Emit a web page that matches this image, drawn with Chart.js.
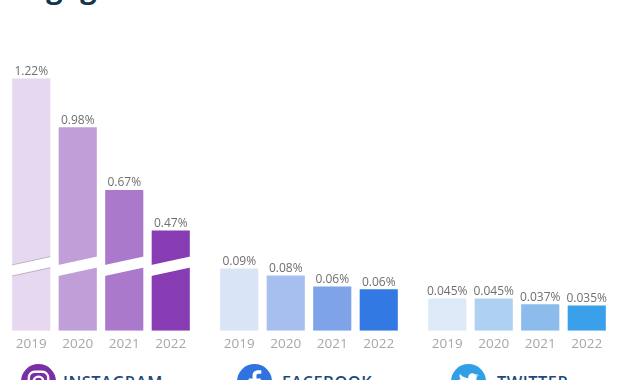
<!DOCTYPE html>
<html>
<head>
<meta charset="utf-8">
<script src="https://cdn.jsdelivr.net/npm/chart.js@4"></script>
<style>
  html, body { margin: 0; padding: 0; background: #fff; }
  body { width: 630px; height: 380px; overflow: hidden; position: relative; font-family: "Open Sans", sans-serif; }
  .title { position: absolute; left: 11px; top: -28px; font-size: 29px; line-height: 29px; font-weight: 700; color: #12344d; }
  .panel { position: absolute; top: 61px; width: 186px; height: 296px; }
  .brand { position: absolute; top: 364px; height: 35px; display: flex; align-items: center; color: #1f4a78; font-weight: 600; font-size: 16.4px; letter-spacing: .5px; }
  .brand svg { width: 35px; height: 35px; }
</style>
</head>
<body>
<div class="title">Engagement</div>
<div class="panel" style="left:8px"><canvas id="instagram"></canvas></div>
<div class="panel" style="left:216px"><canvas id="facebook"></canvas></div>
<div class="panel" style="left:424px"><canvas id="twitter"></canvas></div>

<div class="brand" style="left:21px">
  <svg viewBox="0 0 36 36" style="margin-right:7px"><circle cx="18" cy="18" r="18" fill="#7b2fa5"/><rect x="8" y="8" width="20" height="20" rx="6" fill="none" stroke="#fff" stroke-width="2.4"/><circle cx="18" cy="18" r="5" fill="none" stroke="#fff" stroke-width="2.4"/></svg>
  <span>INSTAGRAM</span>
</div>
<div class="brand" style="left:237px">
  <svg viewBox="0 0 36 36" style="margin-right:10px"><circle cx="18" cy="18" r="18" fill="#2f73e0"/><path d="M20 30V19h4l.6-4H20v-3c0-1.2.5-2 2-2h3V6.500c-1-.1-2-.2-3-.2-3.500 0-6 2-6 5.700V15h-4v4h4v11z" fill="#fff"/></svg>
  <span>FACEBOOK</span>
</div>
<div class="brand" style="left:451px">
  <svg viewBox="0 0 36 36" style="margin-right:11px"><circle cx="18" cy="18" r="18" fill="#2f9fe6"/><path d="M28 11.500c-.8.4-1.600.6-2.400.7.900-.5 1.500-1.300 1.800-2.300-.8.500-1.700.8-2.600 1-1.600-1.700-4.300-1.700-5.900-.1-1 1-1.400 2.500-1.100 3.900-3.300-.2-6.400-1.700-8.500-4.300-1.100 1.900-.5 4.300 1.300 5.500-.7 0-1.300-.2-1.900-.5 0 2 1.400 3.700 3.300 4.100-.6.200-1.200.2-1.900.1.500 1.700 2.100 2.800 3.900 2.900-1.800 1.400-4 2-6.200 1.800 6.500 4.100 18.800 1.500 18.500-11.200.9-.6 1.500-1 2.700-1.600z" fill="#fff"/></svg>
  <span>TWITTER</span>
</div>

<script>
const years = ["2019", "2020", "2021", "2022"];

const instagramValues = [1.22, 0.98, 0.67, 0.47];
const facebookValues = [0.09, 0.08, 0.064, 0.06];
const twitterValues = [0.045, 0.045, 0.037, 0.035];

const instagramLabels = ["1.22%", "0.98%", "0.67%", "0.47%"];
const facebookLabels = ["0.09%", "0.08%", "0.06%", "0.06%"];
const twitterLabels = ["0.045%", "0.045%", "0.037%", "0.035%"];

const instagramColors = ["#e5d8f0", "#c09fd8", "#aa79cb", "#873cb3"];
const facebookColors = ["#d9e4f6", "#a6bfee", "#7ea3e8", "#3279e4"];
const twitterColors = ["#dceaf8", "#aed0f1", "#8bbcec", "#3aa0ea"];

// value labels above the bars
const barLabels = {
  id: "barLabels",
  afterDatasetsDraw(chart, args, opts) {
    const { ctx } = chart;
    ctx.save();
    ctx.font = "12px 'Open Sans'";
    ctx.fillStyle = "#6f6f6f";
    ctx.textAlign = "center";
    ctx.textBaseline = "bottom";
    chart.getDatasetMeta(0).data.forEach((bar, i) => {
      ctx.fillText(opts.texts[i], bar.x, bar.y - 1);
    });
    ctx.restore();
  }
};

// white slanted cut across the instagram bars
const axisBreak = {
  id: "axisBreak",
  afterDatasetsDraw(chart) {
    const { ctx, chartArea } = chart;
    const low = chartArea.bottom - 54;
    const high = chartArea.bottom - 65;
    ctx.save();
    chart.getDatasetMeta(0).data.forEach((bar, i) => {
      const half = bar.width / 2 + 4;
      ctx.fillStyle = "#fff";
      ctx.beginPath();
      ctx.moveTo(bar.x - half, low);
      ctx.lineTo(bar.x + half, low - 10);
      ctx.lineTo(bar.x + half, high - 10);
      ctx.lineTo(bar.x - half, high);
      ctx.closePath();
      ctx.fill();
      if (i === 0) {
        // the palest bar shows a thin shadow along the cut, only inside the bar
        ctx.save();
        ctx.beginPath();
        ctx.rect(bar.x - bar.width / 2, chartArea.top, bar.width, chartArea.height);
        ctx.clip();
        ctx.strokeStyle = "rgba(110, 100, 120, 0.4)";
        ctx.lineWidth = 1;
        ctx.beginPath();
        ctx.moveTo(bar.x - half, low);
        ctx.lineTo(bar.x + half, low - 10);
        ctx.moveTo(bar.x - half, high);
        ctx.lineTo(bar.x + half, high - 10);
        ctx.stroke();
        ctx.restore();
      }
    });
    ctx.restore();
  }
};

function drawPanel(id, values, texts, colors, minY, maxY, extra) {
  new Chart(document.getElementById(id), {
    type: "bar",
    data: {
      labels: years,
      datasets: [{
        data: values,
        base: minY,
        backgroundColor: colors,
        borderWidth: 0,
        barPercentage: 0.82,
        categoryPercentage: 1
      }]
    },
    options: {
      responsive: false,
      animation: false,
      events: [],
      layout: { padding: 0 },
      scales: {
        x: {
          grid: { display: false, drawTicks: false },
          border: { display: false },
          ticks: { color: "#a8a8a8", font: { family: "'Open Sans'", size: 13.5 }, padding: 5, maxRotation: 0 }
        },
        y: { display: false, min: minY, max: maxY }
      },
      plugins: {
        legend: { display: false },
        tooltip: { enabled: false },
        barLabels: { texts: texts }
      }
    },
    plugins: extra ? [axisBreak, barLabels] : [barLabels]
  });
}

function sizeCanvas(id) {
  const c = document.getElementById(id);
  c.width = 186;
  c.height = 296;
}
["instagram", "facebook", "twitter"].forEach(sizeCanvas);

drawPanel("instagram", instagramValues, instagramLabels, instagramColors, -0.025, 1.307, true);
drawPanel("facebook", facebookValues, facebookLabels, facebookColors, 0, 0.39, false);
drawPanel("twitter", twitterValues, twitterLabels, twitterColors, 0, 0.375, false);
</script>
</body>
</html>
